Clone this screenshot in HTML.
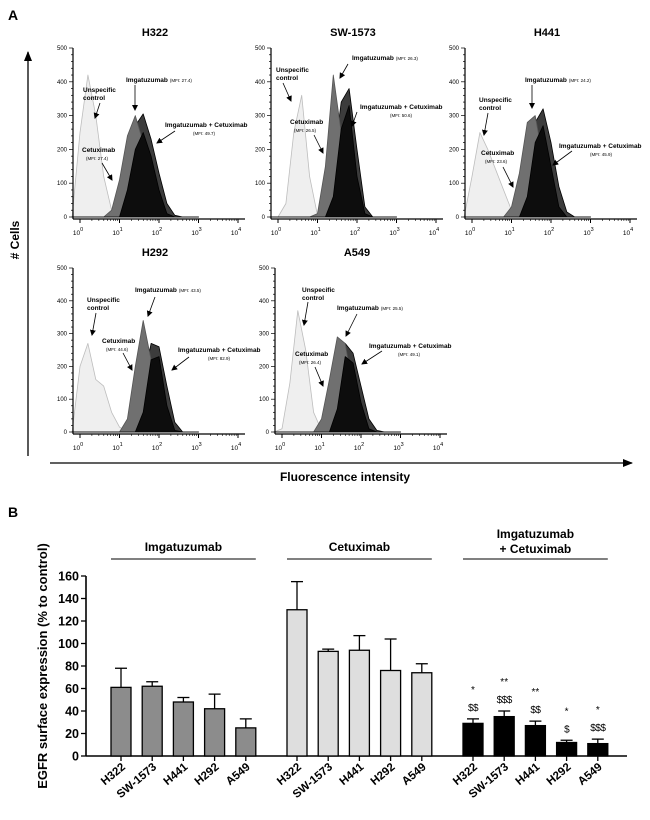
<!DOCTYPE html>
<html><head><meta charset="utf-8">
<style>
html,body{margin:0;padding:0;background:#fff;}
svg{display:block;font-family:"Liberation Sans",Arial,sans-serif;font-weight:bold;}
</style></head>
<body>
<svg id="fig" width="650" height="820" viewBox="0 0 650 820" xmlns="http://www.w3.org/2000/svg">
<defs>
<marker id="ah" markerWidth="6" markerHeight="6" refX="5" refY="3" orient="auto" markerUnits="userSpaceOnUse"><path d="M0,0 L6,3 L0,6 z" fill="#000"/></marker>
<marker id="ah2" markerWidth="10" markerHeight="8" refX="9" refY="4" orient="auto" markerUnits="userSpaceOnUse"><path d="M0,0 L10,4 L0,8 z" fill="#000"/></marker>
</defs>
<text x="8" y="20" font-size="14">A</text>
<text x="8" y="517" font-size="14">B</text>
<line x1="28" y1="456" x2="28" y2="52" stroke="#000" stroke-width="1.3" marker-end="url(#ah2)"/>
<text transform="translate(19,240) rotate(-90)" text-anchor="middle" font-size="12"># Cells</text>
<line x1="50" y1="463" x2="632" y2="463" stroke="#000" stroke-width="1.3" marker-end="url(#ah2)"/>
<text x="345" y="481" text-anchor="middle" font-size="12">Fluorescence intensity</text>
<g id="hists"></g>
<g id="bars"></g>
</svg>
<script>
// ---------- Histogram data (counts at log10 fluorescence bins) ----------
const bins = [-0.2,0,0.2,0.4,0.6,0.8,1.0,1.2,1.4,1.6,1.8,2.0,2.2,2.4,2.6,2.8,3.0];
const panelNames = ["H322","SW-1573","H441","H292","A549"];
const unspecCounts = [
 [0,250,420,300,120,20,0,0,0,0,0,0,0,0,0,0,0],
 [0,0,40,250,360,120,5,0,0,0,0,0,0,0,0,0,0],
 [0,120,250,200,140,80,20,0,0,0,0,0,0,0,0,0,0],
 [0,200,270,160,140,60,15,0,0,0,0,0,0,0,0,0,0],
 [0,10,150,370,250,60,5,0,0,0,0,0,0,0,0,0,0]];
const midCounts = [
 [0,0,0,0,0,20,110,240,300,220,110,30,5,0,0,0,0],
 [0,0,0,0,0,0,10,150,420,250,50,5,0,0,0,0,0],
 [0,0,0,0,0,0,30,130,280,300,170,50,5,0,0,0,0],
 [0,0,0,0,0,0,0,40,200,340,220,70,10,0,0,0,0],
 [0,0,0,0,0,0,40,160,290,270,130,30,5,0,0,0,0]];
const darkCounts = [
 [0,0,0,0,0,0,30,140,270,305,230,130,40,5,0,0,0],
 [0,0,0,0,0,0,0,20,150,340,380,200,30,0,0,0,0],
 [0,0,0,0,0,0,0,40,150,280,320,220,90,15,0,0,0],
 [0,0,0,0,0,0,0,0,40,150,270,260,140,30,0,0,0],
 [0,0,0,0,0,0,0,40,170,270,240,140,40,5,0,0,0]];
const blackCounts = [
 [0,0,0,0,0,0,0,80,200,250,180,80,10,0,0,0,0],
 [0,0,0,0,0,0,0,0,60,260,330,120,10,0,0,0,0],
 [0,0,0,0,0,0,0,0,60,220,270,150,30,0,0,0,0],
 [0,0,0,0,0,0,0,0,0,60,220,230,80,5,0,0,0],
 [0,0,0,0,0,0,0,0,70,230,210,90,10,0,0,0,0]];
const yTicks = [0,100,200,300,400,500];
const decades = [0,1,2,3,4];

// ---------- Bar chart data ----------
const cellLines = ["H322","SW-1573","H441","H292","A549"];
const groupNames = ["Imgatuzumab","Cetuximab","Imgatuzumab + Cetuximab"];
const imgMeans = [61,62,48,42,25];
const imgErr = [17,4,4,13,8];
const cetMeans = [130,93,94,76,74];
const cetErr = [25,2,13,28,8];
const comboMeans = [29,35,27,12,11];
const comboErr = [4,5,4,2,4];
const comboStars = ["*","**","**","*","*"];
const comboDollars = ["$$","$$$","$$","$","$$$"];
const barTicks = [0,20,40,60,80,100,120,140,160];

const NS="http://www.w3.org/2000/svg";
function mk(tag,attrs,parent){const e=document.createElementNS(NS,tag);for(const k in attrs)e.setAttribute(k,attrs[k]);parent.appendChild(e);return e;}

const panels=[{x:73,y0:217,y1:48},{x:271,y0:217,y1:48},{x:465,y0:217,y1:48},{x:73,y0:432,y1:268},{x:275,y0:432,y1:268}];
const PW=170;
const annots=[
 [{t:["Unspecific","control"],x:83,y:92,a:[100,103,95,118]},{t:["Imgatuzumab"],m:"(MFI: 27.4)",x:126,y:82,a:[135,85,135,110]},{t:["Imgatuzumab + Cetuximab"],m2:"(MFI: 49.7)",x:165,y:127,mx:193,a:[175,131,157,143]},{t:["Cetuximab"],m2:"(MFI: 27.4)",x:82,y:152,mx:86,a:[102,163,112,180]}],
 [{t:["Unspecific","control"],x:276,y:72,a:[283,83,291,101]},{t:["Imgatuzumab"],m:"(MFI: 26.3)",x:352,y:60,a:[348,64,340,78]},{t:["Imgatuzumab + Cetuximab"],m2:"(MFI: 50.6)",x:360,y:109,mx:390,a:[357,112,352,126]},{t:["Cetuximab"],m2:"(MFI: 26.5)",x:290,y:124,mx:294,a:[314,135,323,153]}],
 [{t:["Unspecific","control"],x:479,y:102,a:[488,113,484,135]},{t:["Imgatuzumab"],m:"(MFI: 24.2)",x:525,y:82,a:[532,85,532,108]},{t:["Imgatuzumab + Cetuximab"],m2:"(MFI: 45.9)",x:559,y:148,mx:590,a:[572,151,553,165]},{t:["Cetuximab"],m2:"(MFI: 23.6)",x:481,y:155,mx:485,a:[503,167,513,187]}],
 [{t:["Unspecific","control"],x:87,y:302,a:[96,313,92,335]},{t:["Imgatuzumab"],m:"(MFI: 43.5)",x:135,y:292,a:[155,297,148,316]},{t:["Imgatuzumab + Cetuximab"],m2:"(MFI: 82.9)",x:178,y:352,mx:208,a:[189,357,172,370]},{t:["Cetuximab"],m2:"(MFI: 44.6)",x:102,y:343,mx:106,a:[123,353,132,370]}],
 [{t:["Unspecific","control"],x:302,y:292,a:[308,302,304,325]},{t:["Imgatuzumab"],m:"(MFI: 25.5)",x:337,y:310,a:[357,314,346,336]},{t:["Imgatuzumab + Cetuximab"],m2:"(MFI: 49.1)",x:369,y:348,mx:398,a:[382,351,362,364]},{t:["Cetuximab"],m2:"(MFI: 26.4)",x:295,y:356,mx:299,a:[315,367,323,386]}]
];

const H=document.getElementById('hists');
panels.forEach((p,pi)=>{
  const g=mk('g',{},H);
  
  
  const xs=v=>p.x+7+(v)*(PW-12)/4;
  const ys=c=>p.y0-c*(p.y0-p.y1)/500;
  const t=mk('text',{x:p.x+82,y:p.y1-12,'text-anchor':'middle','font-size':'11'},g);
  t.textContent=panelNames[pi];
  
  
  const series=[[darkCounts,'#3c3c3c','#000'],[midCounts,'#707070','#555'],[blackCounts,'#0d0d0d','#000'],[unspecCounts,'#efefef','#bdbdbd']];
  const order=[3,0,1,2];
  order.forEach(si=>{
    const [arr,fill,stroke]=series[si];
    const c=arr[pi];
    let d='M'+xs(bins[0]).toFixed(1)+','+ys(0);
    c.forEach((v,i)=>{d+=' L'+xs(bins[i]).toFixed(1)+','+ys(v).toFixed(1);});
    d+=' L'+xs(bins[bins.length-1]).toFixed(1)+','+ys(0)+' Z';
    const path=mk('path',{d:d,fill:fill,stroke:stroke,'stroke-width':'0.8','stroke-linejoin':'round'},g);
    
    
  });
  mk('line',{x1:p.x,y1:p.y1,x2:p.x,y2:p.y0+2,stroke:'#000','stroke-width':'1.2'},g);
  mk('line',{x1:p.x,y1:p.y0+2,x2:p.x+PW+2,y2:p.y0+2,stroke:'#000','stroke-width':'1.2'},g);
  for(let v=0;v<=500;v+=20){const y=ys(v);mk('line',{x1:p.x-(v%100?2:4),y1:y,x2:p.x,y2:y,stroke:'#000','stroke-width':'0.7'},g);}
  yTicks.forEach(v=>{const tt=mk('text',{x:p.x-6,y:ys(v)+2,'text-anchor':'end','font-size':'6','font-weight':'normal'},g);tt.textContent=v;
    });
  decades.forEach(dd=>{
    const x=xs(dd);
    mk('line',{x1:x,y1:p.y0+2,x2:x,y2:p.y0+6,stroke:'#000','stroke-width':'1'},g);
    if(dd<4)for(let k=2;k<10;k++){const xx=xs(dd+Math.log10(k));mk('line',{x1:xx,y1:p.y0+2,x2:xx,y2:p.y0+4,stroke:'#000','stroke-width':'0.6'},g);}
    const tt=mk('text',{x:x-2,y:p.y0+18,'text-anchor':'middle','font-size':'6.5','font-weight':'normal'},g);
    tt.innerHTML='10<tspan dy="-4" font-size="5.5">'+dd+'</tspan>';
    
  });
  annots[pi].forEach(a=>{
    a.t.forEach((line,li)=>{const tt=mk('text',{x:a.x,y:a.y+li*8,'font-size':'6.5'},g);tt.textContent=line;
      if(a.m&&li===0){const s=mk('tspan',{'font-size':'4.5','font-weight':'normal',dx:'2'},tt);s.textContent=a.m;}
      });
    if(a.m2){const tt=mk('text',{x:a.mx,y:a.y+8,'font-size':'4.5','font-weight':'normal'},g);tt.textContent=a.m2;
      }
    const ln=mk('line',{x1:a.a[0],y1:a.a[1],x2:a.a[2],y2:a.a[3],stroke:'#000','stroke-width':'0.8','marker-end':'url(#ah)'},g);
    
  });
});

const B=document.getElementById('bars');
const y0=756, yTop=576, axX=86, axEnd=627;
const yScale=v=>y0-v*(y0-yTop)/160;
const groupStart=[111,287,463], step=31.2, bw=20;
const xBar=(gi,i)=>groupStart[gi]+i*step;
const means=[imgMeans,cetMeans,comboMeans], errs=[imgErr,cetErr,comboErr];
const fills=['#8c8c8c','#dedede','#000'];
mk('line',{x1:axX,y1:yTop,x2:axX,y2:y0,stroke:'#000','stroke-width':'1.6'},B);
mk('line',{x1:axX,y1:y0,x2:axEnd,y2:y0,stroke:'#000','stroke-width':'1.6'},B);
barTicks.forEach(v=>{const y=yScale(v);mk('line',{x1:axX-5,y1:y,x2:axX,y2:y,stroke:'#000','stroke-width':'1.3'},B);
  const t=mk('text',{x:axX-7,y:y+4.5,'text-anchor':'end','font-size':'12.5'},B);t.textContent=v;
  });
const yt=mk('text',{transform:'translate(47,666) rotate(-90)','text-anchor':'middle','font-size':'13'},B);
yt.textContent='EGFR surface expression (% to control)';

means.forEach((arr,gi)=>{
  arr.forEach((v,i)=>{
    const x=xBar(gi,i), top=yScale(v), et=yScale(v+errs[gi][i]), cx=x+bw/2;
    const eb=mk('line',{x1:cx,y1:top,x2:cx,y2:et,stroke:'#000','stroke-width':'1.3'},B);
    
    mk('line',{x1:cx-6,y1:et,x2:cx+6,y2:et,stroke:'#000','stroke-width':'1.3'},B);
    const r=mk('rect',{x:x,y:top,width:bw,height:y0-top,fill:fills[gi],stroke:'#000','stroke-width':'1.3'},B);
    
    
    mk('line',{x1:cx,y1:y0,x2:cx,y2:y0+5,stroke:'#000','stroke-width':'1.3'},B);
    const t=mk('text',{transform:'translate('+(cx+5)+','+(y0+12)+') rotate(-40)','text-anchor':'end','font-size':'11.5'},B);
    t.textContent=cellLines[i];
    
    if(gi===2){
      const s=mk('text',{x:cx,y:et-26,'text-anchor':'middle','font-size':'10','font-weight':'normal'},B);s.textContent=comboStars[i];
      
      const d=mk('text',{x:cx,y:et-8,'text-anchor':'middle','font-size':'10','font-weight':'normal','letter-spacing':'-0.5'},B);d.textContent=comboDollars[i];
      
    }
  });
  const gx0=xBar(gi,0), gx1=xBar(gi,4)+bw, gc=(gx0+gx1)/2;
  const gl=mk('line',{x1:gx0,y1:559,x2:gx1,y2:559,stroke:'#000','stroke-width':'1'},B);
  
  if(gi<2){const t=mk('text',{x:gc,y:551,'text-anchor':'middle','font-size':'12'},B);t.textContent=groupNames[gi];
    }
  else{const t=mk('text',{x:gc,y:538,'text-anchor':'middle','font-size':'12'},B);t.textContent='Imgatuzumab';
    
    const t2=mk('text',{x:gc,y:553,'text-anchor':'middle','font-size':'12'},B);t2.textContent='+ Cetuximab';
    }
});
</script>
</body></html>
